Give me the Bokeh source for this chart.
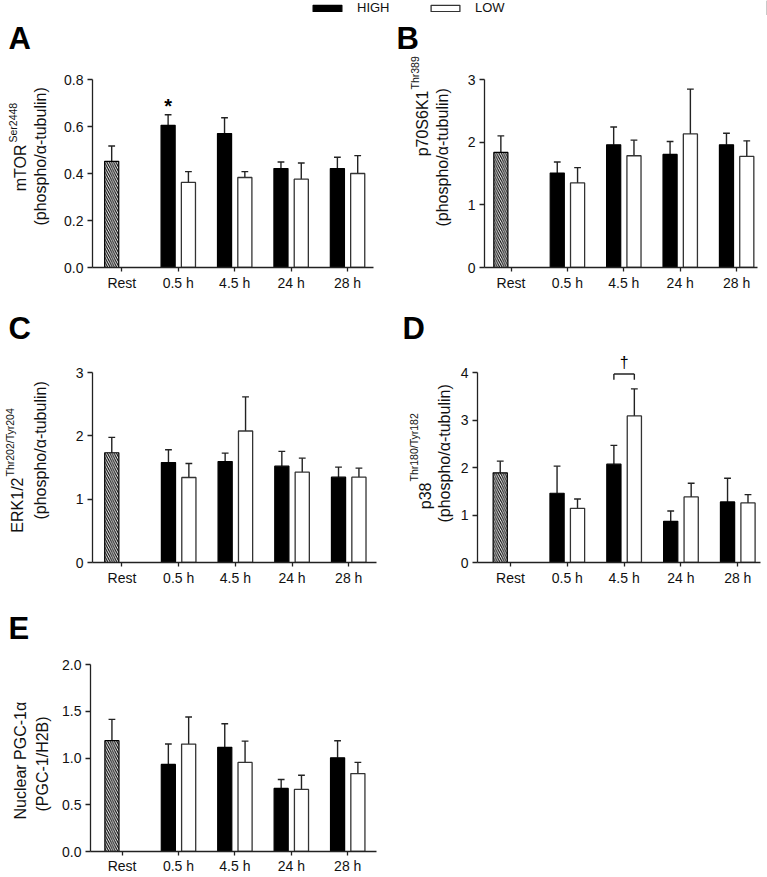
import numpy as np
from bokeh.plotting import figure
from bokeh.layouts import column, row
from bokeh.models import (Range1d, FixedTicker, PrintfTickFormatter, Title,
                          Legend, LegendItem, ColumnDataSource)
from bokeh.core.properties import value
from bokeh.embed import file_html
from bokeh.resources import INLINE

FONT = "Liberation Sans"

# ---------------- data ----------------
categories = ["Rest", "0.5 h", "4.5 h", "24 h", "28 h"]
time_points = ["0.5 h", "4.5 h", "24 h", "28 h"]
groups = ["HIGH", "LOW"]

# A  mTOR Ser2448
mtor_rest, mtor_rest_sem = 0.452, 0.065
mtor_high = [0.605, 0.570, 0.421, 0.421]
mtor_high_sem = [0.045, 0.067, 0.028, 0.048]
mtor_low = [0.362, 0.383, 0.376, 0.400]
mtor_low_sem = [0.046, 0.025, 0.069, 0.076]

# B  p70S6K1 Thr389
p70_rest, p70_rest_sem = 1.836, 0.264
p70_high = [1.508, 1.958, 1.804, 1.958]
p70_high_sem = [0.175, 0.285, 0.207, 0.185]
p70_low = [1.349, 1.783, 2.132, 1.772]
p70_low_sem = [0.244, 0.249, 0.715, 0.249]

# C  ERK1/2 Thr202/Tyr204
erk_rest, erk_rest_sem = 1.733, 0.243
erk_high = [1.579, 1.595, 1.521, 1.347]
erk_high_sem = [0.201, 0.132, 0.233, 0.159]
erk_low = [1.342, 2.076, 1.426, 1.347]
erk_low_sem = [0.222, 0.539, 0.222, 0.143]

# D  p38 Thr180/Tyr182
p38_rest, p38_rest_sem = 1.887, 0.247
p38_high = [1.458, 2.070, 0.866, 1.275]
p38_high_sem = [0.570, 0.395, 0.219, 0.500]
p38_low = [1.141, 3.085, 1.380, 1.254]
p38_low_sem = [0.197, 0.570, 0.289, 0.176]

# E  Nuclear PGC-1alpha
pgc_rest, pgc_rest_sem = 1.185, 0.228
pgc_high = [0.931, 1.114, 0.675, 1.002]
pgc_high_sem = [0.218, 0.253, 0.095, 0.183]
pgc_low = [1.149, 0.953, 0.664, 0.833]
pgc_low_sem = [0.289, 0.228, 0.151, 0.120]

# significance marks
star_time, star_y = "0.5 h", 0.688
dagger_time, dagger_y = "4.5 h", 4.22
bracket_top, bracket_bottom = 3.97, 3.85

# ---------------- styling ----------------
OFF = 0.18
BAR_W = 0.25
CAP = 0.12
AX = "#222222"
TICK_FS = "14px"
F, S = 16, 10.5
LET_FS = 31

W = {' ': .278, '(': .333, ')': .333, '-': .333, '/': .278, 'B': .667, 'C': .722,
     'E': .667, 'G': .778, 'H': .722, 'K': .667, 'N': .722, 'O': .778, 'P': .667,
     'R': .722, 'S': .667, 'T': .611, 'a': .556, 'b': .556, 'c': .5, 'e': .556,
     'h': .556, 'i': .222, 'l': .222, 'm': .833, 'n': .556, 'o': .556, 'p': .556,
     'r': .333, 's': .5, 't': .278, 'u': .556, 'y': .5, 'α': .578}


def text_w(s, size):
    return sum(W.get(c, .556) for c in s) * size


def ival(v):
    return int(round(v))


def spacer_title(size):
    return Title(text=" ", text_font_size="1px", standoff=max(0, ival(size - 1.12)))


def panel(fig, frame, yr, ybounds, yticks, yfmt, xr,
          rest, rest_sem, high, high_sem, low, low_sem,
          letter, letter_xy, main, sup, line2, ytl, xstand=3):
    ox, oy, fw, fh = fig
    FL, FT, FR, FB = frame
    p = figure(width=fw, height=fh, x_range=Range1d(*xr), y_range=Range1d(*yr),
               output_backend="svg", toolbar_location=None, title=None,
               min_border_left=FL - ox, min_border_right=ox + fw - FR,
               min_border_top=FT - oy, min_border_bottom=oy + fh - FB,
               outline_line_color=None)
    p.grid.visible = False
    idx = np.array([categories.index(t) for t in time_points], dtype=float)
    src = ColumnDataSource(dict(
        xh=idx - OFF, xl=idx + OFF,
        high=high, low=low,
        hu=np.add(high, high_sem), lu=np.add(low, low_sem),
        xh0=idx - OFF - CAP / 2, xh1=idx - OFF + CAP / 2,
        xl0=idx + OFF - CAP / 2, xl1=idx + OFF + CAP / 2))
    r_idx = categories.index("Rest")
    rsrc = ColumnDataSource(dict(
        x=[r_idx - OFF], top=[rest], up=[rest + rest_sem],
        x0=[r_idx - OFF - CAP / 2], x1=[r_idx - OFF + CAP / 2]))

    for s, x, lo, hi, x0, x1 in ((src, 'xh', 'high', 'hu', 'xh0', 'xh1'),
                                 (src, 'xl', 'low', 'lu', 'xl0', 'xl1'),
                                 (rsrc, 'x', 'top', 'up', 'x0', 'x1')):
        p.segment(x0=x, y0=lo, x1=x, y1=hi, source=s, line_color=AX, line_width=1.4)
        p.segment(x0=x0, y0=hi, x1=x1, y1=hi, source=s, line_color=AX, line_width=1.4)

    p.vbar(x='x', top='top', width=BAR_W, source=rsrc, fill_color="white",
           line_color="black", line_width=1.2, hatch_pattern="\\",
           hatch_color="black", hatch_scale=4.5, hatch_weight=1.1)
    p.vbar(x='xh', top='high', width=BAR_W, source=src, fill_color="black",
           line_color="black", line_width=1.2)
    p.vbar(x='xl', top='low', width=BAR_W, source=src, fill_color="white",
           line_color="#333333", line_width=1.3)

    for ax in (p.xaxis[0], p.yaxis[0]):
        ax.axis_line_color = AX
        ax.axis_line_width = 1.3
        ax.major_tick_line_color = AX
        ax.major_tick_line_width = 1.3
        ax.minor_tick_line_color = None
        ax.major_tick_in = 0
        ax.major_label_text_font = FONT
        ax.major_label_text_font_size = TICK_FS
        ax.major_label_text_color = "#111111"
    p.xaxis.ticker = FixedTicker(ticks=list(range(len(categories))))
    p.xaxis.major_label_overrides = {i: c for i, c in enumerate(categories)}
    p.xaxis.major_tick_out = 4
    p.xaxis.major_label_standoff = xstand
    p.yaxis.ticker = FixedTicker(ticks=yticks)
    p.yaxis.formatter = PrintfTickFormatter(format=yfmt)
    p.yaxis.major_tick_out = 5
    p.yaxis.major_label_standoff = 4
    p.yaxis.bounds = ybounds

    # ---- panel letter (spacer + bold letter above the frame)
    lx, lbase = letter_xy
    p.add_layout(spacer_title((FT - lbase) - 0.212 * LET_FS), "above")
    p.add_layout(Title(text=letter, align="left", offset=lx - FL, standoff=0,
                       text_font=FONT, text_font_size=f"{LET_FS}px",
                       text_font_style="bold", text_color="black"), "above")

    # ---- y-axis title
    Wa, X2, X1, R, cen1, cen2 = ytl
    h, d = 1.12 * F, 0.212 * F
    hs, ds = 1.12 * S, 0.212 * S
    s1 = -10
    main_inner = X1 + d + s1 / 2
    s2 = 2 * (X2 + d - main_inner - h)
    inner2 = X2 + d + s2 / 2
    gap = (FL - Wa) - inner2
    if gap >= 1.12:
        p.add_layout(spacer_title(gap), "left")
    else:
        inner2 = FL - Wa
        s2 = 2 * (inner2 - X2 - d)
        main_inner = inner2 - (h + s2)
    outer1 = main_inner - (h + s1)
    ss = 2 * (outer1 - (X1 - R + ds))
    if hs + ss < 0:
        ss = -hs

    wm = text_w(main, F)
    ws = text_w(sup, S) if sup else 0
    w2 = text_w(line2, F)
    frame_h = FB - FT
    tkw = dict(text_font=FONT, text_font_style="normal", text_color="#111111")
    p.add_layout(Title(text=line2, align="left", standoff=ival(s2),
                       offset=ival((FB - cen2) - w2 / 2),
                       text_font_size=f"{F}px", **tkw), "left")
    J = (FB - cen1) - (wm + ws) / 2 + wm
    if sup:
        p.add_layout(Title(text=main, align="right", standoff=s1,
                           offset=ival(frame_h - J), text_font_size=f"{F}px", **tkw), "left")
        p.add_layout(Title(text=sup, align="left", standoff=ival(ss),
                           offset=ival(J + 1), text_font_size=f"{S}px", **tkw), "left")
    else:
        p.add_layout(Title(text=main, align="left", standoff=s1,
                           offset=ival(J - wm), text_font_size=f"{F}px", **tkw), "left")
    return p


# ---------------- legend strip ----------------
lp = figure(width=767, height=15, x_range=Range1d(0, 1), y_range=Range1d(0, 1),
            output_backend="svg", toolbar_location=None, title=None, min_border=0,
            outline_line_color=None)
lp.axis.visible = False
lp.grid.visible = False
r_hi = lp.vbar(x=[5], top=[1], width=1, fill_color="black", line_color="black", line_width=1.2)
r_lo = lp.vbar(x=[5], top=[1], width=1, fill_color="white", line_color="#333333", line_width=1.3)
leg = Legend(items=[LegendItem(label=groups[0], renderers=[r_hi]),
                    LegendItem(label=groups[1], renderers=[r_lo])],
             orientation="horizontal", location=(309, 0), padding=0, margin=0,
             spacing=20, glyph_width=36, glyph_height=8, label_standoff=12,
             label_width=50, label_text_font=FONT, label_text_font_size="13px",
             label_text_color="#111111", border_line_alpha=0, background_fill_alpha=0)
lp.add_layout(leg)

# ---------------- panels ----------------
# ytl = (axis panel width, line2 baseline x, line1 baseline x, superscript raise,
#        line1 centre y, line2 centre y)   -- page pixels
pA = panel((0, 15, 392, 281), (92, 79, 373, 268), (0, 0.8), (0, 0.8),
           [0, 0.2, 0.4, 0.6, 0.8], "%.1f", (-0.52, 4.46),
           mtor_rest, mtor_rest_sem, mtor_high, mtor_high_sem, mtor_low, mtor_low_sem,
           "A", (8, 50), "mTOR", "Ser2448", "(phospho/α-tubulin)",
           (28.5, 49.5, 30, 8, 148, 157))
pB = panel((392, 15, 375, 281), (484, 79, 757, 267), (0, 3), (0, 3),
           [0, 1, 2, 3], "%d", (-0.47, 4.37),
           p70_rest, p70_rest_sem, p70_high, p70_high_sem, p70_low, p70_low_sem,
           "B", (396, 50), "p70S6K1", "Thr389", "(phospho/α-tubulin)",
           (17, 451.5, 432, 8, 106, 157))
pC = panel((0, 296, 392, 292), (92, 353, 376, 562), (0, 3.3), (0, 3),
           [0, 1, 2, 3], "%d", (-0.52, 4.49),
           erk_rest, erk_rest_sem, erk_high, erk_high_sem, erk_low, erk_low_sem,
           "C", (8, 340), "ERK1/2", "Thr202/Tyr204", "(phospho/α-tubulin)",
           (17, 49.5, 27, 8, 470, 450))
pD = panel((392, 296, 375, 292), (477, 353, 760, 562), (0, 4.4), (0, 4),
           [0, 1, 2, 3, 4], "%d", (-0.58, 4.40),
           p38_rest, p38_rest_sem, p38_high, p38_high_sem, p38_low, p38_low_sem,
           "D", (402, 340), "p38", "Thr180/Tyr182", "(phospho/α-tubulin)",
           (17, 451.5, 430, 8, 461, 453))
pE = panel((0, 588, 392, 288), (90, 664, 376, 854), (0, 2.0), (0, 2.0),
           [0, 0.5, 1.0, 1.5, 2.0], "%.1f", (-0.56, 4.51),
           pgc_rest, pgc_rest_sem, pgc_high, pgc_high_sem, pgc_low, pgc_low_sem,
           "E", (8, 640), "Nuclear PGC-1α", "", "(PGC-1/H2B)",
           (28.5, 49.5, 28, 8, 763, 766), xstand=2)

# significance: star in A above HIGH 0.5 h
sx = categories.index(star_time) - OFF
pA.text(x=[sx], y=[star_y], text=["*"], text_font=value(FONT), text_font_size="20px",
        text_font_style="bold", text_align="center", text_baseline="middle",
        text_color="black")

# dagger + bracket in D at 4.5 h
dc = categories.index(dagger_time)
pD.segment(x0=[dc - OFF, dc - OFF, dc + OFF], y0=[bracket_top, bracket_top, bracket_top],
           x1=[dc + OFF, dc - OFF, dc + OFF], y1=[bracket_top, bracket_bottom, bracket_bottom],
           line_color=AX, line_width=1.4)
pD.text(x=[dc], y=[dagger_y], text=["†"], text_font=value(FONT), text_font_size="16px",
        text_align="center", text_baseline="middle", text_color="black")

layout = column(lp, row(pA, pB), row(pC, pD), row(pE))
open("out.html", "w").write(file_html(layout, INLINE))
